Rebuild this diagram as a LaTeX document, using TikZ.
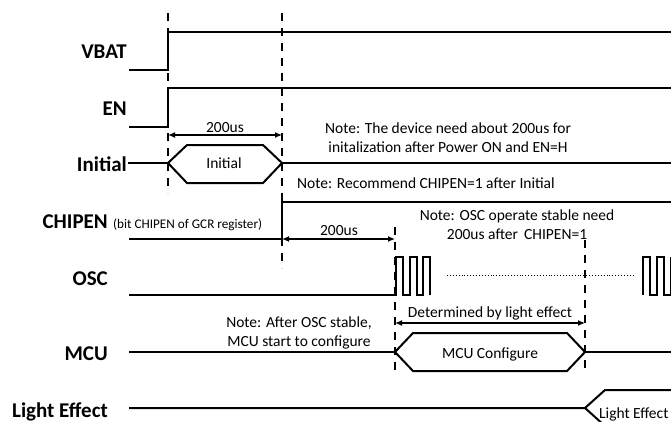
\documentclass[tikz,border=0pt]{standalone}
\usepackage{fontspec}
\setmainfont{Carlito}
\usetikzlibrary{arrows.meta}
\tikzset{
  sig/.style={line width=2pt, line join=miter},
  bus/.style={line width=2pt, line join=miter},
  guide/.style={line width=1.3pt, dash pattern=on 8pt off 7pt},
  dim/.style={line width=1.3pt, {Latex[length=7pt,width=6pt]}-{Latex[length=7pt,width=6pt]}},
  lbl/.style={font=\fontsize{21}{21}\selectfont\bfseries, inner sep=0pt, anchor=base east},
  note/.style={font=\fontsize{15.5}{19}\selectfont, inner sep=0pt, align=center},
  small/.style={font=\fontsize{13.2}{14}\selectfont, inner sep=0pt, anchor=base west},
}
\begin{document}
\begin{tikzpicture}[x=1pt,y=-1pt]
\useasboundingbox (0,0) rectangle (671,421);
\clip (0,0) rectangle (671,421);

% signal labels
\node[lbl] (lvbat) at (127,58) {VBAT};
\node[lbl] (len) at (127,115) {EN};
\node[lbl] (linit) at (127,171) {Initial};
\node[lbl] (lchip) at (108,228) {CHIPEN};
\node[small] (lchipsub) at (113,228) {(bit CHIPEN of GCR register)};
\node[lbl] (losc) at (108,285) {OSC};
\node[lbl] (lmcu) at (108,360) {MCU};
\node[lbl] (llight) at (108,417) {Light Effect};

% guide lines
\coordinate (g1a) at (168,13); \coordinate (g1b) at (168,193);
\coordinate (g2a) at (282,13); \coordinate (g2b) at (282,268);
\coordinate (g3a) at (395,227); \coordinate (g3b) at (395,370);
\coordinate (g4a) at (585,240); \coordinate (g4b) at (585,370);
\draw[guide] (g1a) -- (g1b);
\draw[guide] (g2a) -- (g2b);
\draw[guide] (g3a) -- (g3b);
\draw[guide] (g4a) -- (g4b);

% VBAT
\draw[sig] (129,70) -- (168,70) -- (168,32) -- (671,32);
% EN
\draw[sig] (129,127) -- (168,127) -- (168,88) -- (671,88);
% Initial
\draw[sig] (128,163) -- (168,163);
\draw[bus] (168,163) -- (187,145) -- (263,145) -- (282,163) -- (263,183) -- (187,183) -- cycle;
\node[note] (tinit) at (224,163) {Initial};
\draw[sig] (282,163) -- (671,163);
% CHIPEN
\draw[sig] (129,239) -- (282,239) -- (282,202) -- (671,202);
% OSC
\draw[sig] (129,295) -- (396,295) -- (396,257) -- (403,257) -- (403,295) -- (410,295) -- (410,257) -- (417,257) -- (417,295) -- (423,295) -- (423,257) -- (430,257) -- (430,295);
\draw[line width=0.9pt, dotted] (447,275) -- (635,275);
\draw[sig] (643,295) -- (643,257) -- (650,257) -- (650,295) -- (657,295) -- (657,257) -- (664,257) -- (664,295) -- (671,295) -- (671,257);
% MCU
\draw[sig] (129,352) -- (395,352);
\draw[bus] (395,352) -- (413,333) -- (567,333) -- (585,352) -- (567,371) -- (413,371) -- cycle;
\node[note] (tmcu) at (490,354) {MCU Configure};
\draw[sig] (585,352) -- (671,352);
% Light Effect
\draw[sig] (129,408) -- (585,408) -- (605,390) -- (675,390);
\draw[sig] (585,408) -- (605,426);
\node[note, anchor=base west] (tlight) at (599,418) {Light Effect};

% dimension arrows
\coordinate (a1l) at (168,135); \coordinate (a1r) at (282,135);
\draw[dim] (a1l) -- (a1r);
\node[note] (t200a) at (225,128) {200us};
\coordinate (a2l) at (282,239); \coordinate (a2r) at (395,239);
\draw[dim] (a2l) -- (a2r);
\node[note] (t200b) at (339,231) {200us};
\coordinate (a3l) at (395,323); \coordinate (a3r) at (585,323);
\draw[dim] (a3l) -- (a3r);
\node[note] (tdet) at (490,313) {Determined by light effect};

% notes
\node[note] (n1) at (448,137.5) {Note: The device need about 200us for\\initalization after Power ON and EN=H};
\node[note, anchor=west] (n2) at (297,183) {Note: Recommend CHIPEN=1 after Initial};
\node[note] (n3) at (517,224.5) {Note: OSC operate stable need\\200us after\, CHIPEN=1};
\node[note] (n4) at (299,332.5) {Note: After OSC stable,\\MCU start to configure};
\end{tikzpicture}
\end{document}
